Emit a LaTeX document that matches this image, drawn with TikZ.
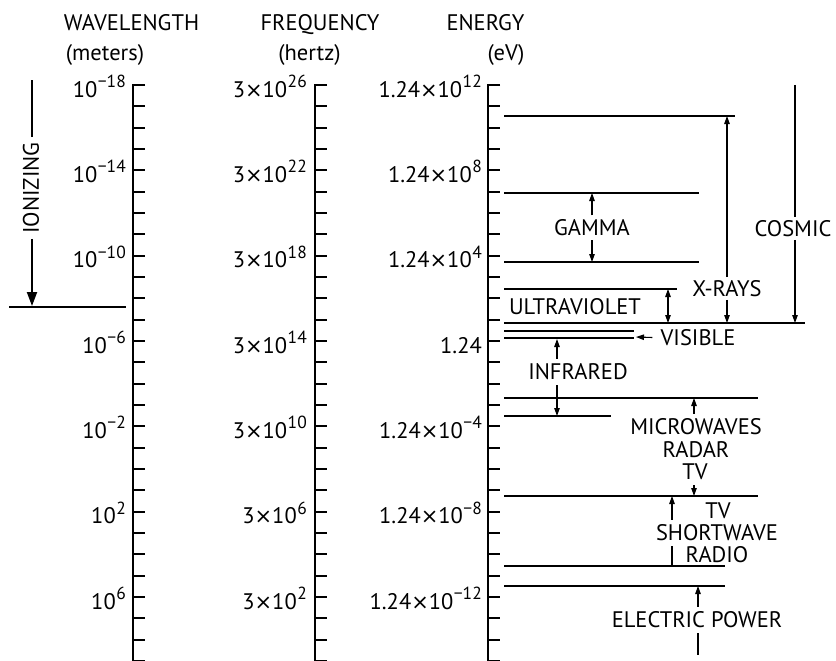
\documentclass[tikz,border=0pt]{standalone}
\usepackage{fontspec}
\setmainfont{PT Sans}
\newfontfamily\dvfont{DejaVu Sans}
\usetikzlibrary{arrows.meta}
\newcommand\ex[1]{\hspace{0.5pt}\raisebox{0.42em}{\fontsize{17.5}{17.5}\selectfont #1}}
\newcommand\tms{{\dvfont\fontsize{21}{21}\selectfont ×}}
\begin{document}
\begin{tikzpicture}[x=1pt,y=-1pt,
  txt/.style={font=\fontsize{22.5}{24}\selectfont, inner sep=0pt},
  lab/.style={font=\fontsize{22.5}{24}\selectfont, inner xsep=1pt, inner ysep=4pt},
  axisln/.style={line width=2.2pt},
  tk/.style={line width=2pt},
  band/.style={line width=1.5pt},
  arr/.style={line width=1.1pt, -{Triangle[length=8pt,width=5.5pt]}},
  darr/.style={line width=1.1pt, {Triangle[length=8pt,width=5.5pt]}-{Triangle[length=8pt,width=5.5pt]}},
  plainln/.style={line width=1.1pt},
]
\useasboundingbox (0,0) rectangle (836,661);

% axes with ticks
\foreach \ax in {133,315,488}{
  \draw[axisln] (\ax+12,85) -- (\ax,85) -- (\ax,662);
  \foreach \k in {1,...,27}{
    \draw[tk] (\ax,{85+\k*21.333}) -- (\ax+12,{85+\k*21.333});
  }
}

% headings
\node[txt, anchor=base] (hw) at (131.5,31) {WAVELENGTH};
\node[txt, anchor=base] (hwu) at (105,61) {(meters)};
\node[txt, anchor=base] (hf) at (320,31) {FREQUENCY};
\node[txt, anchor=base] (hfu) at (309.5,61) {(hertz)};
\node[txt, anchor=base] (he) at (485.5,31) {ENERGY};
\node[txt, anchor=base] (heu) at (506,61) {(eV)};

% wavelength labels
\node[txt, anchor=base east] (w1) at (126,97) {10\ex{−18}};
\node[txt, anchor=base east] (w2) at (126,182.3) {10\ex{−14}};
\node[txt, anchor=base east] (w3) at (126,267.7) {10\ex{−10}};
\node[txt, anchor=base east] (w4) at (126,353) {10\ex{−6}};
\node[txt, anchor=base east] (w5) at (126,438.3) {10\ex{−2}};
\node[txt, anchor=base east] (w6) at (126,523.7) {10\ex{2}};
\node[txt, anchor=base east] (w7) at (126,609) {10\ex{6}};

% frequency labels
\node[txt, anchor=base east] (f1) at (307,97) {3\tms10\ex{26}};
\node[txt, anchor=base east] (f2) at (307,182.3) {3\tms10\ex{22}};
\node[txt, anchor=base east] (f3) at (307,267.7) {3\tms10\ex{18}};
\node[txt, anchor=base east] (f4) at (307,353) {3\tms10\ex{14}};
\node[txt, anchor=base east] (f5) at (307,438.3) {3\tms10\ex{10}};
\node[txt, anchor=base east] (f6) at (307,523.7) {3\tms10\ex{6}};
\node[txt, anchor=base east] (f7) at (307,609) {3\tms10\ex{2}};

% energy labels
\node[txt, anchor=base east] (e1) at (482,97) {1.24\tms10\ex{12}};
\node[txt, anchor=base east] (e2) at (482,182.3) {1.24\tms10\ex{8}};
\node[txt, anchor=base east] (e3) at (482,267.7) {1.24\tms10\ex{4}};
\node[txt, anchor=base east] (e4) at (482,353) {1.24};
\node[txt, anchor=base east] (e5) at (482,438.3) {1.24\tms10\ex{−4}};
\node[txt, anchor=base east] (e6) at (482,523.7) {1.24\tms10\ex{−8}};
\node[txt, anchor=base east] (e7) at (482,609) {1.24\tms10\ex{−12}};

% band boundary lines
\draw[band] (504,116) -- (735,116);
\draw[band] (504,193) -- (699,193);
\draw[band] (504,262) -- (699,262);
\draw[line width=2pt] (504,289) -- (677,289);
\draw[band] (504,323) -- (805,323);
\draw[band] (504,331) -- (634,331);
\draw[band] (504,338) -- (634,338);
\draw[band] (504,398) -- (758,398);
\draw[band] (504,416) -- (611,416);
\draw[band] (504,496) -- (758,496);
\draw[band] (504,566) -- (725,566);
\draw[band] (504,586) -- (725,586);

% endpoints on the lines
\coordinate (xrTop) at (727,116);
\coordinate (xrBot) at (727,323);
\coordinate (csTop) at (795,85);
\coordinate (csBot) at (795,323);
\coordinate (gmTop) at (592,193);
\coordinate (gmBot) at (592,262);
\coordinate (uvTop) at (668,289);
\coordinate (uvBot) at (668,323);
\coordinate (visEnd) at (636,337);
\coordinate (irTop) at (557,339);
\coordinate (irBot) at (557,416);
\coordinate (mwTop) at (694,398);
\coordinate (mwBot) at (694,496);
\coordinate (swTop) at (672,496);
\coordinate (swBot) at (672,566);
\coordinate (epTop) at (698,586);
\coordinate (epBot) at (698,655);

% band labels
\node[lab] (gamma) at (592,227.7) {GAMMA};
\node[lab, inner ysep=3pt] (xray) at (727,288.5) {X-RAYS};
\node[lab, inner ysep=3pt, inner xsep=2pt] (cosmic) at (793,228.5) {COSMIC};
\node[txt] (uv) at (575,307) {ULTRAVIOLET};
\node[lab, inner xsep=8pt] (vis) at (698,337.5) {VISIBLE};
\node[lab, inner ysep=5pt] (ir) at (578,372) {INFRARED};
\node[lab, inner ysep=5pt] (mw) at (696,427) {MICROWAVES};
\node[txt] (radar) at (696,450) {RADAR};
\node[lab, inner ysep=5pt] (tva) at (695,472) {TV};
\node[txt] (tvb) at (718,511) {TV};
\node[lab, inner ysep=5pt] (sw) at (717,533) {SHORTWAVE};
\node[txt] (radio) at (717,555) {RADIO};
\node[lab, inner ysep=5pt] (ep) at (697,620) {ELECTRIC POWER};

% connectors
\draw[arr] (gamma.north) -- (gmTop);
\draw[arr] (gamma.south) -- (gmBot);
\draw[arr] (xray.north -| xrTop) -- (xrTop);
\draw[arr] (xray.south -| xrBot) -- (xrBot);
\draw[plainln] (csTop) -- (cosmic.north -| csTop);
\draw[arr] (cosmic.south -| csBot) -- (csBot);
\draw[darr] (uvTop) -- (uvBot);
\draw[arr] (vis.west) -- (visEnd);
\draw[arr] (ir.north -| irTop) -- (irTop);
\draw[arr] (ir.south -| irBot) -- (irBot);
\draw[arr] (mw.north -| mwTop) -- (mwTop);
\draw[arr] (tva.south -| mwBot) -- (mwBot);
\draw[arr] (sw.north -| swTop) -- (swTop);
\draw[plainln] (sw.south -| swBot) -- (swBot);
\draw[arr] (ep.north -| epTop) -- (epTop);
\draw[plainln] (ep.south -| epBot) -- (epBot);

% ionizing marker
\coordinate (ionTop) at (32,80);
\coordinate (ionTip) at (32,306);
\coordinate (ionL) at (9,307);
\coordinate (ionR) at (126,307);
\node[txt, rotate=90, inner xsep=5pt] (ion) at (31,188) {IONIZING};
\draw[line width=2pt] (ion.east -| ionTop) -- (ionTop);
\draw[line width=2pt, -{Triangle[length=14pt,width=10pt]}] (ion.west -| ionTip) -- (ionTip);
\draw[band] (ionL) -- (ionR);
\end{tikzpicture}
\end{document}
